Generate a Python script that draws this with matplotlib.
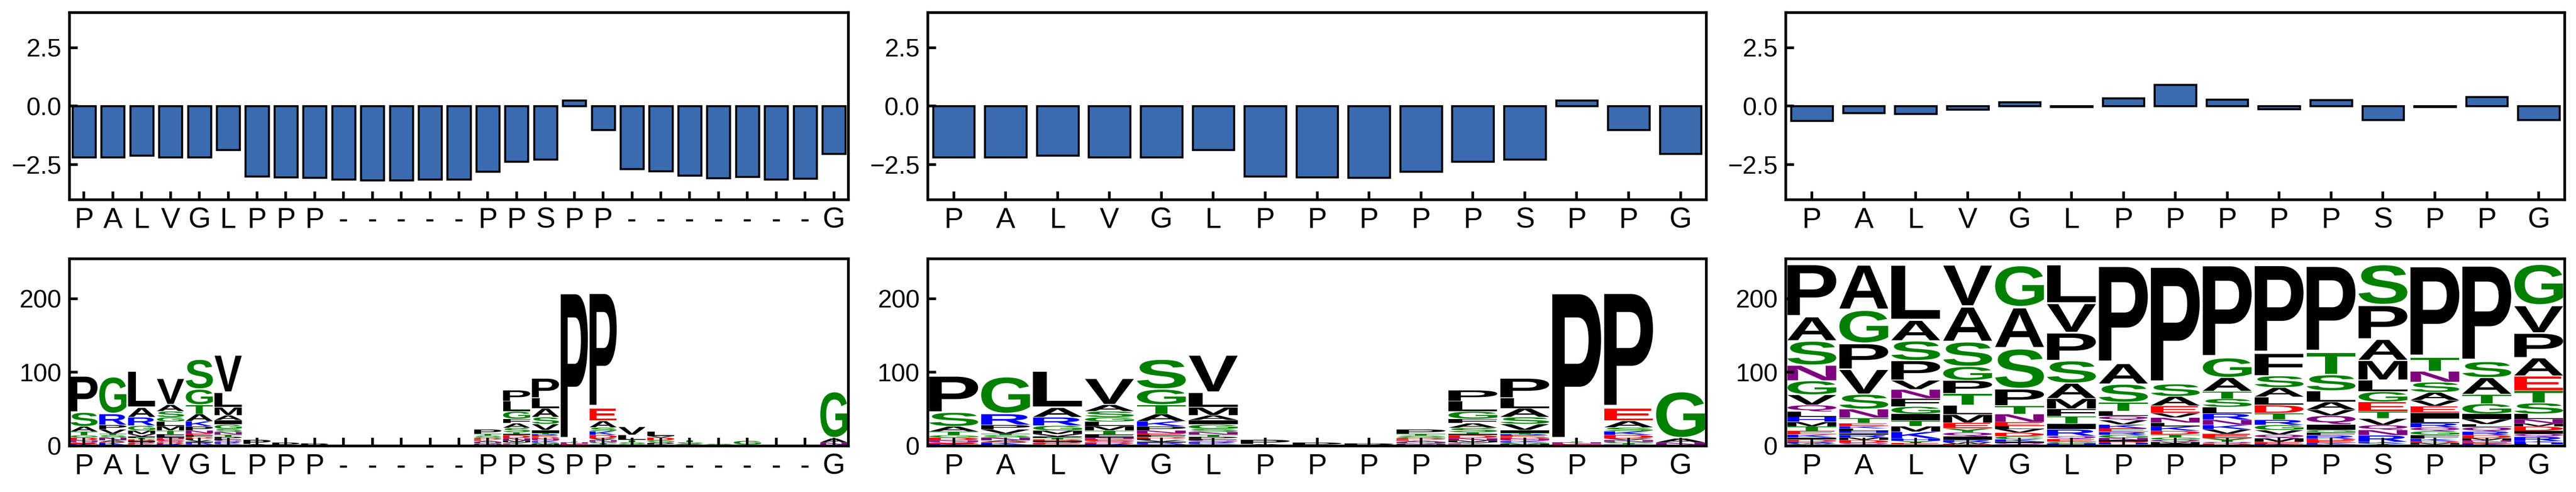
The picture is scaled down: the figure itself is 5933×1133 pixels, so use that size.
import matplotlib
matplotlib.use("Agg")
import matplotlib.pyplot as plt
from matplotlib.textpath import TextPath
from matplotlib.patches import PathPatch
from matplotlib.font_manager import FontProperties
from matplotlib.transforms import Affine2D

plt.rcParams['font.family'] = ['Liberation Sans', 'DejaVu Sans']

# sequence labels
full_labels = list("PALVGLPPP-----PPSPP-------G")
trim_labels = list("PALVGLPPPPPSPPG")
keep_idx = [0, 1, 2, 3, 4, 5, 6, 7, 8, 14, 15, 16, 17, 18, 26]

# per-position scores (top row)
full_scores = [-2.18, -2.18, -2.10, -2.18, -2.18, -1.87, -2.99, -3.04, -3.06,
               -3.13, -3.17, -3.17, -3.13, -3.13, -2.80, -2.36, -2.27, 0.25,
               -1.01, -2.68, -2.78, -2.96, -3.07, -3.01, -3.13, -3.09, -2.04]
trim_scores = [full_scores[i] for i in keep_idx]
diff_scores = [-0.63, -0.29, -0.32, -0.13, 0.18, -0.02, 0.35, 0.92, 0.29,
               -0.12, 0.26, -0.58, -0.02, 0.40, -0.58]

# logo columns, letters listed bottom to top as (letter, count)
full_logo = [
    [('M', 1), ('K', 1.5), ('E', 1.5), ('Q', 1.5), ('N', 2), ('D', 4), ('G', 3), ('T', 5), ('A', 7), ('S', 19), ('P', 50)],
    [('D', 1.5), ('K', 3), ('E', 1), ('A', 2), ('N', 4), ('S', 3), ('T', 2), ('V', 6), ('P', 6), ('R', 15), ('G', 51)],
    [('S', 1), ('K', 1), ('E', 2), ('Q', 1.5), ('I', 1.5), ('D', 2), ('T', 2), ('F', 2), ('V', 3), ('M', 5), ('G', 6.5), ('R', 11.5), ('A', 13), ('L', 50)],
    [('K', 1.5), ('R', 1.5), ('D', 2), ('Q', 2), ('E', 2.5), ('N', 1.5), ('I', 2), ('F', 3), ('T', 5), ('M', 6), ('L', 6), ('G', 6), ('S', 8), ('A', 9), ('V', 36)],
    [('M', 1), ('Q', 1.5), ('R', 2), ('I', 1.5), ('V', 2), ('L', 2), ('D', 2), ('F', 2.5), ('E', 2.5), ('N', 4), ('P', 5.5), ('K', 7), ('A', 10), ('T', 12.5), ('G', 21), ('S', 41)],
    [('E', 1), ('D', 1), ('C', 1), ('K', 1), ('R', 1.5), ('Q', 2), ('F', 2), ('P', 3), ('T', 3), ('N', 3.5), ('S', 4), ('G', 6), ('I', 6), ('A', 6.5), ('M', 11), ('L', 20), ('V', 51.5)],
    [('S', 1), ('A', 1.5), ('P', 6)],
    [('A', 0.7), ('P', 4)],
    [('S', 0.5), ('P', 3)],
    [], [], [], [], [],
    [('R', 1), ('K', 1), ('M', 1), ('Q', 1), ('N', 1.5), ('A', 1.5), ('E', 1.5), ('D', 2), ('G', 1.5), ('S', 2), ('T', 2.5), ('P', 6)],
    [('K', 1), ('R', 1), ('E', 1.5), ('V', 1.5), ('M', 2.5), ('N', 3), ('D', 4), ('I', 2), ('T', 2), ('S', 6), ('A', 6.3), ('F', 6), ('G', 10), ('L', 14), ('P', 15)],
    [('F', 1.5), ('M', 1.5), ('G', 2), ('K', 1.5), ('Q', 1.5), ('N', 2), ('D', 2), ('E', 2.5), ('R', 1.5), ('T', 1.5), ('I', 4), ('V', 8.3), ('S', 9.3), ('A', 12), ('L', 14), ('P', 27)],
    [('S', 1), ('D', 1), ('E', 1), ('N', 2), ('T', 1), ('P', 206)],
    [('Q', 1), ('R', 1), ('T', 1.5), ('G', 2), ('N', 2.5), ('V', 2), ('D', 5), ('K', 5), ('S', 5), ('A', 9), ('E', 17), ('P', 160)],
    [('A', 1), ('E', 1), ('G', 1), ('S', 2), ('T', 3), ('L', 7), ('V', 11)],
    [('E', 1), ('A', 1), ('P', 2), ('S', 1.5), ('G', 2), ('D', 4), ('V', 2), ('L', 6)],
    [('E', 1), ('D', 1), ('A', 1), ('S', 2), ('T', 3)],
    [('A', 1), ('G', 1), ('S', 1)],
    [('A', 1), ('S', 1), ('G', 5)],
    [],
    [('A', 1)],
    [('E', 0.7), ('S', 1), ('N', 3), ('A', 5.5), ('G', 64.5)],
]
trim_logo = [full_logo[i] for i in keep_idx]

cons_logo = [
    [('Y', 1.5), ('C', 1), ('W', 1), ('R', 2), ('D', 3), ('I', 3), ('K', 4), ('E', 5), ('T', 6), ('M', 6), ('H', 7), ('L', 7), ('Q', 9), ('V', 14), ('G', 19), ('N', 21), ('S', 33), ('A', 33), ('P', 72)],
    [('W', 1), ('C', 1), ('Q', 2), ('D', 4), ('M', 3.5), ('R', 3.5), ('I', 2.4), ('H', 3.4), ('L', 3), ('K', 3), ('E', 4), ('T', 7.3), ('N', 12), ('S', 20), ('V', 34), ('P', 35), ('G', 45.5), ('A', 62)],
    [('Q', 2), ('E', 2), ('Y', 3), ('H', 3), ('K', 9.3), ('M', 7.5), ('T', 7.5), ('I', 9.3), ('G', 9.9), ('F', 10.9), ('N', 12.3), ('V', 12.5), ('P', 26.7), ('S', 26.7), ('A', 28), ('L', 76)],
    [('D', 3), ('W', 2), ('R', 3), ('I', 5), ('Q', 5.3), ('Y', 5.5), ('E', 7.5), ('M', 11.3), ('L', 12.8), ('T', 15.8), ('P', 17.8), ('G', 18.8), ('S', 33.6), ('A', 47.8), ('V', 57.3)],
    [('R', 2), ('Q', 2), ('I', 2), ('K', 3), ('C', 4), ('D', 5), ('V', 5), ('L', 4), ('E', 5.3), ('N', 11), ('T', 11.3), ('P', 22.7), ('S', 55.3), ('A', 55.7), ('G', 57.3)],
    [('Y', 1.5), ('H', 2), ('G', 2), ('E', 4), ('Q', 4), ('R', 9), ('I', 8), ('T', 10), ('F', 10), ('M', 13.8), ('A', 20.8), ('S', 30.6), ('P', 38), ('V', 40), ('L', 52.8)],
    [('Y', 2), ('H', 2), ('D', 2), ('I', 2), ('N', 3), ('G', 4), ('R', 4), ('E', 5), ('K', 5), ('V', 6), ('Q', 5.3), ('L', 7), ('T', 11.9), ('S', 24.7), ('A', 28), ('P', 135)],
    [('H', 1.5), ('I', 2), ('M', 2), ('Q', 3), ('G', 3), ('T', 4), ('D', 5), ('K', 6), ('L', 5), ('N', 7), ('V', 6), ('E', 10), ('A', 12.8), ('S', 16.8), ('P', 162.5)],
    [('H', 1.5), ('D', 2), ('Q', 2), ('Y', 5), ('E', 6), ('V', 6), ('K', 6), ('N', 7), ('R', 8.3), ('L', 9), ('S', 11.3), ('T', 10), ('A', 18.8), ('G', 26.7), ('P', 128)],
    [('N', 1), ('K', 1.5), ('E', 3), ('M', 5), ('Q', 5), ('V', 6), ('G', 7), ('R', 7), ('T', 9), ('D', 11), ('L', 11), ('A', 12.8), ('S', 15.8), ('F', 30.6), ('P', 122)],
    [('N', 2), ('K', 2), ('E', 3), ('D', 3), ('R', 4.3), ('F', 4.3), ('G', 3), ('I', 7.6), ('Q', 12), ('V', 8), ('A', 10.5), ('L', 15.2), ('S', 21.7), ('T', 30.4), ('P', 119.6)],
    [('D', 1.5), ('Y', 2), ('K', 2), ('R', 8.9), ('N', 7.3), ('Q', 6.5), ('V', 8.9), ('T', 9.9), ('E', 12.8), ('G', 13.8), ('L', 15.8), ('M', 26.7), ('A', 28.7), ('P', 46.4), ('S', 55.7)],
    [('H', 2), ('M', 2), ('D', 2.6), ('K', 3), ('F', 5.5), ('G', 5), ('Q', 5), ('R', 6), ('L', 6), ('I', 8), ('E', 8.9), ('V', 7.9), ('A', 10.9), ('S', 13.8), ('N', 14.8), ('T', 18.8), ('P', 126)],
    [('Y', 1.5), ('K', 2), ('E', 2), ('N', 2), ('M', 3), ('D', 4), ('R', 5), ('Q', 6), ('L', 4), ('V', 7), ('I', 7), ('G', 13.8), ('T', 12.8), ('A', 22.7), ('S', 21.7), ('P', 132.8)],
    [('Y', 1), ('F', 1.5), ('H', 2), ('K', 2), ('R', 6), ('Q', 4), ('I', 4), ('D', 6), ('M', 4), ('N', 6), ('L', 7), ('S', 14.8), ('T', 16.8), ('E', 19.8), ('A', 24.7), ('P', 33.6), ('V', 37.5), ('G', 56.7)],
]

# chemistry colour scheme
color_groups = {'GSTYC': 'green', 'QN': 'purple', 'KRH': 'blue',
                'DE': 'red', 'AVLIPWFM': 'black'}
letter_color = {}
for letters, c in color_groups.items():
    for aa in letters:
        letter_color[aa] = c

bar_color = '#3a6ab0'
glyph_font = FontProperties(family='Liberation Sans', weight='bold')


def draw_logo(ax, columns, width=0.94, vpad=0.06):
    for x, col in enumerate(columns):
        y = 0
        for aa, h in col:
            path = TextPath((0, 0), aa, size=1, prop=glyph_font)
            ext = path.get_extents()
            hh = h * (1 - vpad)
            tr = (Affine2D().translate(-ext.x0, -ext.y0)
                  .scale(width / ext.width, hh / ext.height)
                  .translate(x - width / 2, y + h * vpad / 2))
            ax.add_patch(PathPatch(tr.transform_path(path), fc=letter_color[aa],
                                   ec='none', lw=0))
            y += h


def style_axes(ax, labels):
    n = len(labels)
    ax.set_xlim(-0.5, n - 0.5)
    ax.set_xticks(range(n))
    ax.set_xticklabels(labels)
    for sp in ax.spines.values():
        sp.set_linewidth(1.5)
    ax.tick_params(direction='in', length=4.5, width=1.5, top=False, right=False)
    ax.tick_params(axis='x', labelsize=16, pad=4)
    ax.tick_params(axis='y', labelsize=14, pad=4.5)
    ax.set_axisbelow(False)


fig, axes = plt.subplots(2, 3, figsize=(5933 / 300, 1133 / 300), dpi=300)
fig.subplots_adjust(left=0.027, right=0.9956, top=0.9744, bottom=0.0936,
                    wspace=0.102, hspace=0.3155)

top_data = [(full_scores, full_labels), (trim_scores, trim_labels), (diff_scores, trim_labels)]
for ax, (scores, labels) in zip(axes[0], top_data):
    ax.bar(range(len(scores)), scores, width=0.8, color=bar_color,
           edgecolor='black', linewidth=1.1)
    ax.set_ylim(-4, 4)
    ax.set_yticks([-2.5, 0, 2.5])
    style_axes(ax, labels)

bottom_data = [(full_logo, full_labels), (trim_logo, trim_labels), (cons_logo, trim_labels)]
for ax, (logo, labels) in zip(axes[1], bottom_data):
    draw_logo(ax, logo)
    ax.set_ylim(0, 254)
    ax.set_yticks([0, 100, 200])
    style_axes(ax, labels)

fig.savefig('out.png', dpi=300)
